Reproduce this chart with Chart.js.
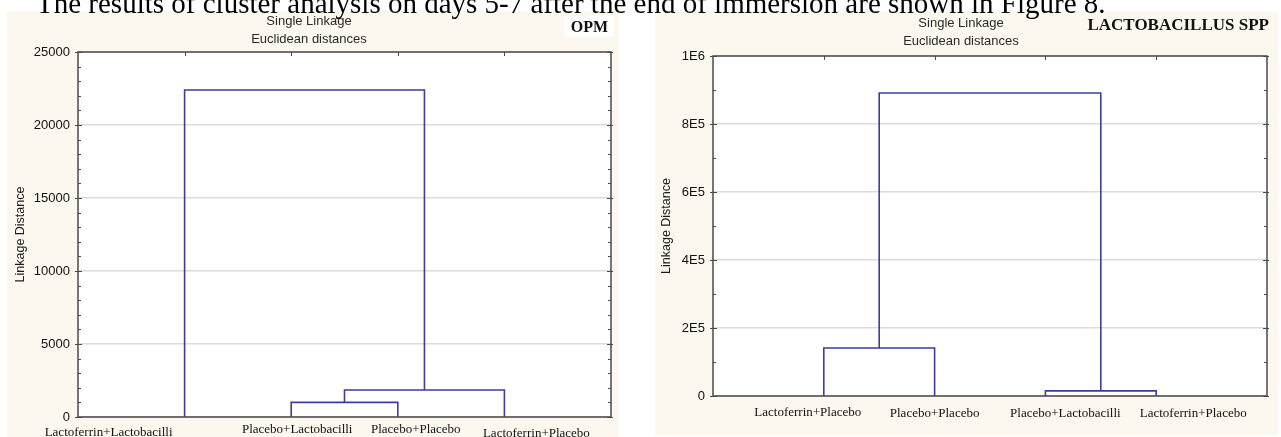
<!DOCTYPE html>
<html>
<head>
<meta charset="utf-8">
<script src="https://cdn.jsdelivr.net/npm/chart.js@4.4.1/dist/chart.umd.min.js"></script>
<style>
  html, body { margin: 0; padding: 0; background: #fff; }
  body { width: 1281px; height: 437px; position: relative; overflow: hidden; }
  .panel { position: absolute; background: #fdf8ef; }
  canvas { position: absolute; top: 0; }
  #caption {
    position: absolute; left: 36px; top: -11px;
    font: 29px/29px "Liberation Serif", "Times New Roman", serif;
    color: #000; white-space: nowrap;
  }
</style>
</head>
<body>
<div class="panel" style="left:7px;top:11px;width:612px;height:426px"></div>
<div class="panel" style="left:655px;top:11px;width:623px;height:424px"></div>
<canvas id="opmChart" style="left:7px" width="612" height="437"></canvas>
<canvas id="lactoChart" style="left:655px" width="623" height="437"></canvas>
<div id="caption">The results of cluster analysis on days 5-7 after the end of immersion are shown in Figure 8.</div>

<script>
// OPM - feuilles dans l'ordre du dendrogramme
const opmLeaves = ['Lactoferrin+Lactobacilli', 'Placebo+Lactobacilli', 'Placebo+Placebo', 'Lactoferrin+Placebo'];
// [groupe a, groupe b, distance] ; 0-3 = feuilles, 4+ = groupes formés
const opmLinks = [[1, 2, 1000], [4, 3, 1850], [0, 5, 22400]];
const opmYTicks = [0, 5000, 10000, 15000, 20000, 25000];
const opmYLabels = ['0', '5000', '10000', '15000', '20000', '25000'];

// Lactobacillus spp
const lactoLeaves = ['Lactoferrin+Placebo', 'Placebo+Placebo', 'Placebo+Lactobacilli', 'Lactoferrin+Placebo'];
const lactoLinks = [[2, 3, 15000], [0, 1, 141000], [4, 5, 891000]];
const lactoYTicks = [0, 200000, 400000, 600000, 800000, 1000000];
const lactoYLabels = ['0', '2E5', '4E5', '6E5', '8E5', '1E6'];

const sans = '"Liberation Sans", Arial, sans-serif';
const serif = '"Liberation Serif", "Times New Roman", serif';
const lineColor = '#3d3d9e';

// Transforme les fusions en segments en U
function linkSegments(leafCount, links) {
  const pos = [], height = [];
  for (let i = 0; i < leafCount; i++) { pos.push(i + 1); height.push(0); }
  return links.map(([a, b, d]) => {
    const seg = [
      { x: pos[a], y: height[a] }, { x: pos[a], y: d },
      { x: pos[b], y: d }, { x: pos[b], y: height[b] }
    ];
    pos.push((pos[a] + pos[b]) / 2);
    height.push(d);
    return seg;
  });
}

// Cadre, graduations, noms des feuilles et étiquette du coin
function framePlugin(leaves, minorStep, lay) {
  return {
    id: 'frame',
    beforeDraw(chart) {
      const { ctx, chartArea: a } = chart;
      ctx.save();
      ctx.fillStyle = '#fff';
      ctx.fillRect(a.left, a.top, a.width, a.height);
      if (lay.cornerBox) {
        ctx.fillRect(lay.cornerBox[0], lay.cornerBox[1], lay.cornerBox[2], lay.cornerBox[3]);
      }
      ctx.restore();
    },
    afterDraw(chart) {
      const { ctx, chartArea: a, scales: { x, y } } = chart;
      ctx.save();
      ctx.strokeStyle = '#4a4a4a';
      ctx.lineWidth = 1.5;
      ctx.strokeRect(a.left, a.top, a.width, a.height);
      ctx.lineWidth = 1;
      ctx.beginPath();
      for (let v = 0; v <= y.max; v += minorStep) {
        const py = Math.round(y.getPixelForValue(v)) + 0.5;
        const major = y.ticks.some(t => t.value === v);
        const len = major ? 4 : 3;
        ctx.moveTo(a.left - (major ? 3 : 0), py); ctx.lineTo(a.left + len, py);
        ctx.moveTo(a.right + (major ? 2 : 0), py); ctx.lineTo(a.right - len, py);
      }
      x.ticks.forEach(t => {
        const px = Math.round(x.getPixelForValue(t.value)) + 0.5;
        ctx.moveTo(px, a.top); ctx.lineTo(px, a.top + 4);
      });
      ctx.stroke();

      // noms des feuilles sous l'axe (décalés comme dans la figure)
      ctx.fillStyle = '#111';
      ctx.font = '13px ' + serif;
      ctx.textAlign = 'center';
      ctx.textBaseline = 'alphabetic';
      leaves.forEach((name, i) => {
        const px = x.getPixelForValue(i + 1) + lay.labelDx[i];
        ctx.fillText(name, px, a.bottom + lay.labelDy[i]);
      });

      ctx.font = 'bold ' + lay.cornerSize + 'px ' + serif;
      ctx.textAlign = 'right';
      ctx.fillText(lay.corner, lay.cornerX, lay.cornerY);
      ctx.restore();
    }
  };
}

function dendrogram(canvasId, leaves, links, yTicks, yLabels, minorStep, lay) {
  const segs = linkSegments(leaves.length, links);
  return new Chart(document.getElementById(canvasId), {
    type: 'line',
    data: {
      datasets: segs.map(s => ({
        data: s,
        borderColor: lineColor,
        borderWidth: 1.6,
        pointRadius: 0,
        tension: 0,
        fill: false
      }))
    },
    options: {
      responsive: false,
      animation: false,
      layout: { padding: { left: 0, right: lay.right, top: 0, bottom: 0 } },
      plugins: {
        legend: { display: false },
        tooltip: { enabled: false },
        title: {
          display: true,
          text: ['Single Linkage', 'Euclidean distances'],
          color: '#2a2a2a',
          font: { family: sans, size: 13, weight: 'normal', lineHeight: '18px' },
          padding: { top: lay.titleTop, bottom: lay.titleBottom }
        }
      },
      scales: {
        x: {
          type: 'linear',
          min: 0,
          max: leaves.length + 1,
          afterBuildTicks: s => { s.ticks = leaves.map((_, i) => ({ value: i + 1 })); },
          ticks: { display: false },
          grid: { display: false, drawTicks: false },
          border: { display: false },
          afterFit: s => { s.height = lay.xHeight; }
        },
        y: {
          type: 'linear',
          min: 0,
          max: yTicks[yTicks.length - 1],
          afterBuildTicks: s => { s.ticks = yTicks.map(v => ({ value: v })); },
          ticks: {
            padding: 8,
            color: '#111',
            font: { family: sans, size: 13 },
            callback: (v, i) => yLabels[i]
          },
          grid: { color: '#dcdcdc', lineWidth: 1.5, drawTicks: false },
          border: { display: false },
          title: {
            display: true,
            text: 'Linkage Distance',
            color: '#1a1a1a',
            font: { family: sans, size: 12.5 },
            padding: { top: lay.yTitlePad, bottom: 0 }
          },
          afterFit: s => { s.width = lay.yWidth; }
        }
      }
    },
    plugins: [framePlugin(leaves, minorStep, lay)]
  });
}

dendrogram('opmChart', opmLeaves, opmLinks, opmYTicks, opmYLabels, 1000, {
  right: 8, titleTop: 12, titleBottom: 4, xHeight: 20,
  yWidth: 71, yTitlePad: 6.5,
  labelDx: [-76, 6, 18, 32], labelDy: [19, 16, 16, 20],
  corner: 'OPM', cornerSize: 16, cornerX: 601, cornerY: 32, cornerBox: [557, 16, 50, 21]
});

dendrogram('lactoChart', lactoLeaves, lactoLinks, lactoYTicks, lactoYLabels, 100000, {
  right: 11, titleTop: 14, titleBottom: 6, xHeight: 41,
  yWidth: 58, yTitlePad: 4.5,
  labelDx: [-16, 0, 20, 37], labelDy: [20, 21, 21, 21],
  corner: 'LACTOBACILLUS SPP', cornerSize: 17, cornerX: 614, cornerY: 30, cornerBox: null
});
</script>
</body>
</html>
